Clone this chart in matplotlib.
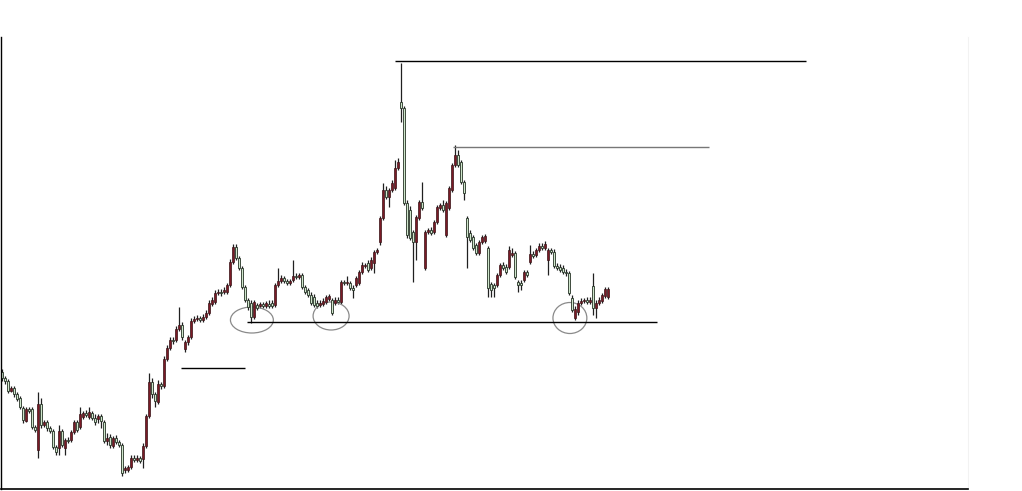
import numpy as np
import matplotlib.pyplot as plt
from matplotlib.patches import Ellipse

# OHLC (price units, one candle per bar)
opens = [117, 111, 108, 98, 101, 95, 91, 81, 68, 80, 80, 62, 39, 85, 64, 67, 61, 58, 42, 41,
         58, 41, 49, 49, 57, 67, 62, 72, 76, 72, 76, 71, 70, 73, 67, 48, 52, 43, 51, 47,
         44, 19, 19, 22, 31, 29, 31, 30, 43, 73, 107, 95, 87, 105, 103, 130, 141, 149, 149, 160,
         164, 140, 147, 152, 168, 170, 171, 169, 172, 176, 185, 187, 196, 197, 197, 197, 204, 227, 242, 231,
         221, 202, 189, 186, 172, 184, 183, 185, 183, 185, 186, 184, 204, 208, 211, 208, 206, 209, 213, 212,
         214, 202, 199, 194, 192, 186, 184, 185, 187, 190, 189, 186, 189, 187, 207, 206, 206, 201, 204, 206,
         217, 223, 226, 221, 226, 237, 247, 271, 299, 292, 299, 301, 321, 387, 381, 286, 279, 257, 247, 271,
         287, 221, 257, 259, 257, 267, 281, 284, 254, 281, 299, 324, 334, 327, 307, 271, 256, 252, 244, 236,
         247, 248, 241, 205, 204, 204, 214, 224, 222, 222, 234, 236, 207, 206, 209, 217, 227, 235, 234, 239,
         243, 241, 229, 239, 237, 223, 222, 221, 217, 216, 191, 171, 177, 186, 188, 189, 187, 203, 181, 186,
         188, 193, 192]
highs = [120, 113, 110, 103, 103, 97, 93, 83, 82, 82, 82, 64, 97, 91, 69, 69, 63, 60, 44, 64,
         60, 51, 52, 59, 69, 69, 82, 78, 79, 82, 78, 75, 75, 75, 69, 56, 55, 53, 54, 49,
         46, 23, 24, 34, 34, 34, 33, 46, 75, 116, 111, 97, 109, 107, 133, 144, 152, 152, 163, 182,
         167, 149, 154, 171, 173, 174, 173, 175, 179, 189, 192, 199, 200, 200, 202, 206, 230, 245, 245, 233,
         223, 204, 191, 189, 189, 186, 187, 187, 188, 189, 189, 206, 221, 214, 213, 210, 210, 229, 216, 216,
         216, 204, 201, 197, 195, 189, 189, 191, 194, 195, 191, 192, 192, 209, 209, 213, 208, 204, 213, 219,
         227, 226, 229, 232, 239, 241, 273, 306, 303, 301, 309, 329, 331, 426, 383, 289, 283, 259, 274, 289,
         307, 259, 261, 262, 269, 284, 286, 289, 288, 303, 326, 344, 339, 329, 309, 273, 259, 254, 246, 249,
         254, 255, 243, 207, 206, 216, 226, 227, 225, 243, 241, 238, 209, 209, 219, 219, 244, 238, 241, 246,
         246, 248, 241, 241, 240, 226, 225, 224, 220, 218, 194, 183, 189, 191, 191, 192, 192, 216, 189, 192,
         196, 202, 202]
lows = [108, 105, 96, 97, 92, 88, 80, 66, 67, 76, 60, 57, 31, 61, 62, 58, 56, 40, 34, 34,
        42, 34, 46, 47, 55, 57, 60, 70, 72, 70, 69, 64, 66, 61, 46, 44, 41, 41, 45, 42,
        13, 16, 17, 20, 27, 27, 26, 21, 41, 71, 91, 82, 85, 100, 101, 128, 139, 145, 147, 158,
        149, 137, 144, 150, 166, 168, 167, 167, 170, 174, 183, 185, 194, 193, 195, 195, 202, 225, 229, 219,
        200, 187, 179, 166, 170, 179, 181, 181, 181, 181, 181, 182, 202, 206, 206, 204, 204, 207, 210, 210,
        200, 195, 192, 184, 182, 181, 182, 183, 185, 188, 174, 184, 185, 185, 204, 204, 199, 191, 202, 204,
        215, 221, 217, 219, 216, 235, 244, 269, 290, 282, 297, 299, 319, 367, 284, 251, 249, 207, 229, 269,
        279, 219, 255, 254, 255, 265, 279, 277, 252, 279, 297, 322, 322, 305, 289, 221, 247, 239, 234, 234,
        245, 246, 192, 192, 192, 202, 212, 219, 215, 220, 232, 210, 197, 199, 207, 212, 225, 231, 232, 237,
        239, 239, 214, 235, 221, 219, 217, 215, 213, 194, 177, 169, 174, 184, 186, 185, 185, 174, 171, 184,
        186, 191, 190]
closes = [111, 108, 98, 101, 95, 90, 82, 69, 80, 78, 62, 59, 85, 64, 67, 61, 58, 42, 37, 58,
          44, 49, 48, 57, 67, 59, 75, 76, 74, 77, 71, 67, 73, 68, 48, 51, 44, 51, 47, 44,
          16, 21, 22, 31, 29, 31, 28, 43, 73, 107, 95, 88, 105, 103, 130, 141, 149, 148, 160, 164,
          152, 147, 152, 168, 170, 171, 169, 172, 176, 186, 189, 196, 197, 196, 199, 204, 227, 242, 231, 221,
          202, 189, 182, 172, 187, 181, 185, 183, 186, 183, 183, 204, 208, 211, 208, 206, 208, 213, 212, 214,
          202, 197, 194, 186, 184, 183, 186, 188, 192, 193, 176, 189, 187, 207, 206, 207, 201, 199, 211, 217,
          224, 224, 219, 229, 237, 239, 271, 299, 292, 299, 306, 321, 327, 381, 286, 254, 251, 247, 272, 287,
          281, 257, 259, 256, 267, 282, 284, 279, 286, 301, 324, 334, 324, 307, 296, 252, 249, 241, 236, 247,
          252, 253, 201, 199, 201, 214, 224, 221, 217, 239, 236, 212, 204, 204, 217, 214, 235, 233, 239, 243,
          241, 245, 239, 237, 223, 221, 219, 217, 216, 196, 179, 180, 186, 188, 189, 187, 189, 181, 186, 189,
          194, 200, 200]

# annotation levels drawn on the chart
resistance_high = 428
resistance_second = 342
support = 167
old_level = 121

fig = plt.figure(figsize=(10.22, 4.91), dpi=100)
ax = fig.add_axes([1 / 1022, 2 / 491, 967 / 1022, 452 / 491])

x = np.arange(len(closes))
o = np.array(opens)
h = np.array(highs)
l = np.array(lows)
c = np.array(closes)
up = c >= o

ax.vlines(x, l, h, color="#202020", linewidth=0.9, zorder=1)
body_bottom = np.minimum(o, c)
body_height = np.maximum(np.abs(c - o), 1.5)
ax.bar(x[up], body_height[up], bottom=body_bottom[up], width=0.9,
       color="#7a1a26", edgecolor="#3a1418", linewidth=0.5, zorder=2)
ax.bar(x[~up], body_height[~up], bottom=body_bottom[~up], width=0.9,
       color="#cfe6cc", edgecolor="#263226", linewidth=0.6, zorder=2)

# horizontal levels
ax.hlines(resistance_high, 131, 268, color="black", linewidth=1.0)
ax.hlines(resistance_second, 150.3, 235.7, color="#777777", linewidth=1.0)
ax.hlines(support, 81.7, 218.3, color="black", linewidth=1.0)
ax.hlines(old_level, 59.7, 81, color="black", linewidth=1.0)

# circled touches of the support line
for cx, cy, w, hh in [(83.3, 169, 14.3, 26), (109.7, 173, 12, 28), (189.3, 171, 11.3, 31)]:
    ax.add_patch(Ellipse((cx, cy), w, hh, fill=False, edgecolor="#8a8a8a", linewidth=0.9))

ax.set_xlim(-0.33, 322)
ax.set_ylim(0, 452)
ax.set_xticks([])
ax.set_yticks([])
ax.spines["top"].set_visible(False)
ax.spines["right"].set_color("#f2f2f2")
ax.spines["right"].set_linewidth(0.8)
ax.spines["left"].set_linewidth(1.0)
ax.spines["bottom"].set_linewidth(1.2)

fig.savefig("out.png", dpi=100)
